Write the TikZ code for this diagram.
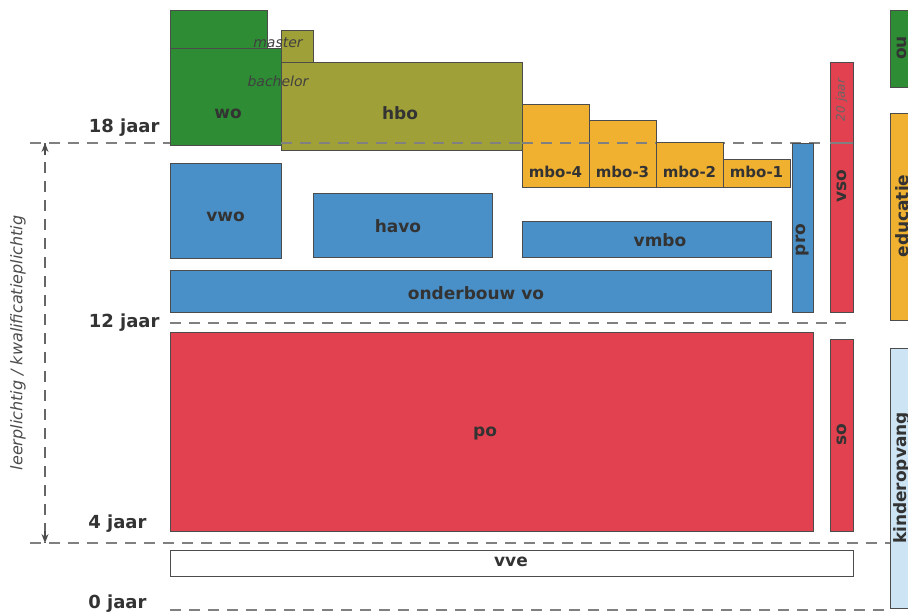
\documentclass[tikz,border=0pt]{standalone}
\usepackage{fontspec}
\setmainfont{DejaVu Sans}
\usepackage{tikz}
\usetikzlibrary{arrows.meta}
\usepackage{xcolor}
\definecolor{wogreen}{RGB}{46,140,52}
\definecolor{hbolive}{RGB}{160,160,56}
\definecolor{mboorange}{RGB}{240,176,48}
\definecolor{voblue}{RGB}{74,144,200}
\definecolor{pored}{RGB}{226,66,80}
\definecolor{kolight}{RGB}{204,228,244}
\tikzset{
  blok/.style={draw=black!70,line width=0.8pt},
  lbl/.style={font=\fontsize{17}{19}\selectfont\bfseries,text=black!80},
  klein/.style={font=\fontsize{15}{17}\selectfont\bfseries,text=black!80},
  leeftijd/.style={font=\fontsize{18}{20}\selectfont\bfseries,text=black!80,anchor=east},
  grens/.style={draw=black!50,line width=1.2pt,dash pattern=on 11pt off 8pt}
}
\begin{document}
\begin{tikzpicture}[x=1pt,y=-1pt]
		\useasboundingbox (0,0) rectangle (908,615);
		% leeftijdsgrenzen
		\draw[grens] (30,143)--(822,143);
		\draw[grens] (170,323)--(853,323);
		\draw[grens] (30,543)--(890,543);
		\draw[grens] (170,610)--(890,610);
		% hoger onderwijs
		\filldraw[blok,fill=wogreen] (170,10) rectangle (267,48);
		\filldraw[blok,fill=wogreen] (170,48) rectangle (281,145);
		\filldraw[blok,fill=hbolive] (281,30) rectangle (313,62);
		\filldraw[blok,fill=hbolive] (281,62) rectangle (522,150);
		\draw[grens] (281,143)--(522,143);
		\node[lbl] (wo) at (228,114) {wo};
		\node[lbl] (hbo) at (400,113) {hbo};
		\node[font=\fontsize{14}{16}\selectfont\itshape,text=black!75] (master) at (278,43) {master};
		\node[font=\fontsize{14}{16}\selectfont\itshape,text=black!75] (bachelor) at (278,81) {bachelor};
		% mbo
		\filldraw[blok,fill=mboorange] (522,104) rectangle (589,187);
		\filldraw[blok,fill=mboorange] (589,120) rectangle (656,187);
		\filldraw[blok,fill=mboorange] (656,142) rectangle (723,187);
		\filldraw[blok,fill=mboorange] (723,159) rectangle (790,187);
		\draw[grens] (522,143)--(656,143);
		\node[klein] (mbo4) at (555.5,172) {mbo-4};
		\node[klein] (mbo3) at (622.5,172) {mbo-3};
		\node[klein] (mbo2) at (689.5,172) {mbo-2};
		\node[klein] (mbo1) at (756.5,172) {mbo-1};
		% voortgezet onderwijs
		\filldraw[blok,fill=voblue] (170,163) rectangle (281,258);
		\filldraw[blok,fill=voblue] (313,193) rectangle (492,257);
		\filldraw[blok,fill=voblue] (522,221) rectangle (771,257);
		\filldraw[blok,fill=voblue] (170,270) rectangle (771,312);
		\filldraw[blok,fill=voblue] (792,143) rectangle (813,312);
		\node[lbl] (vwo) at (225.5,217) {vwo};
		\node[lbl] (havo) at (398,226) {havo};
		\node[lbl] (vmbo) at (660,240) {vmbo};
		\node[lbl] (onderbouw) at (476,293) {onderbouw vo};
		\node[lbl,rotate=90] (pro) at (802.5,240) {pro};
		% speciaal onderwijs
		\filldraw[blok,fill=pored] (830,62) rectangle (853,312);
		\draw[black!50,line width=1.2pt] (830,143)--(853,143);
		\node[font=\fontsize{12}{14}\selectfont\itshape,text=black!60,rotate=90] (twintig) at (841.5,100) {20 jaar};
		\node[lbl,rotate=90] (vso) at (841.5,186) {vso};
		% primair onderwijs
		\filldraw[blok,fill=pored] (170,332) rectangle (813,531);
		\filldraw[blok,fill=pored] (830,339) rectangle (853,531);
		\node[lbl] (po) at (485,434) {po};
		\node[lbl,rotate=90] (so) at (841.5,435) {so};
		% vve
		\filldraw[blok,fill=white] (170,550) rectangle (853,576);
		\node[lbl] (vve) at (511,562) {vve};
		% rechterkolom
		\filldraw[blok,fill=wogreen] (890,10) rectangle (930,87);
		\filldraw[blok,fill=mboorange] (890,113) rectangle (930,320);
		\filldraw[blok,fill=kolight] (890,348) rectangle (930,608);
		\node[lbl,rotate=90] (ou) at (902,48) {ou};
		\node[lbl,rotate=90] (educatie) at (902,216) {educatie};
		\node[lbl,rotate=90] (kinderopvang) at (902,478) {kinderopvang};
		% leeftijden
		\node[leeftijd] (achttien) at (163,128) {18 jaar};
		\node[leeftijd] (twaalf) at (163,323) {12 jaar};
		\node[leeftijd] (vier) at (150,524) {4 jaar};
		\node[leeftijd] (nul) at (150,604) {0 jaar};
		% leerplicht
		\coordinate (plboven) at (45,143);
		\coordinate (plonder) at (45,543);
		\draw[black!60,line width=1.2pt,dash pattern=on 11pt off 8pt] (plboven)--(plonder);
		\draw[black!70,line width=1.2pt,-{Stealth[length=9pt,width=7pt]}] ([yshift=-12pt]plboven)--(plboven);
		\draw[black!70,line width=1.2pt,-{Stealth[length=9pt,width=7pt]}] ([yshift=12pt]plonder)--(plonder);
		\node[font=\fontsize{16}{18}\selectfont\itshape,text=black!70,rotate=90] (leerplicht) at (18,343) {leerplichtig / kwalificatieplichtig};
	\end{tikzpicture}
\end{document}
